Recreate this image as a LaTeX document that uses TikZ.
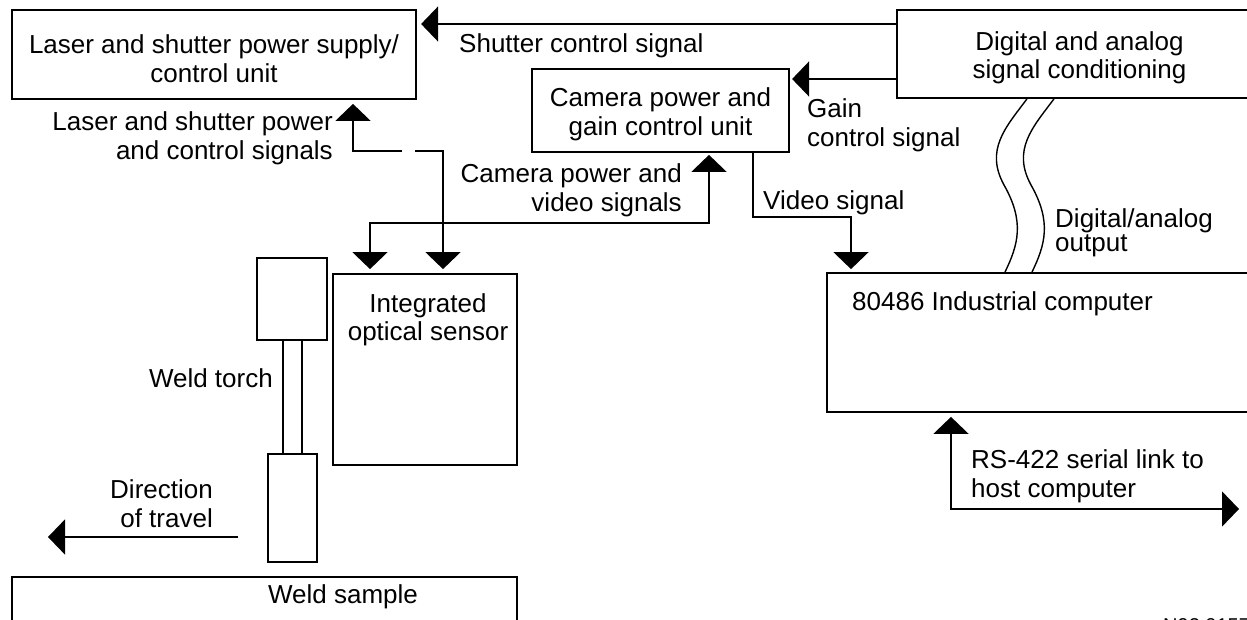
\documentclass[tikz,border=0pt]{standalone}
\usepackage{fontspec}
\setmainfont{Liberation Sans}
\usetikzlibrary{arrows.meta}
\begin{document}
\begin{tikzpicture}[x=1pt,y=-1pt,
  font=\fontsize{26}{28.5}\selectfont,
  every node/.style={inner sep=0pt},
  box/.style={draw,line width=1.8pt,inner sep=0pt,align=center},
  boxtext/.style={align=center,yshift=-4pt},
  sig/.style={line width=1.6pt},
  wire/.style={line width=1.4pt},
  bigtri/.tip={Triangle[length=17pt,width=35pt]}]
\path[use as bounding box,fill=white] (0,0) rectangle (1247,620);

% boxes
\node[box,minimum width=404pt,minimum height=89pt,
  label={[boxtext]center:Laser and shutter power supply/\\control unit}] (L) at (214,54.5) {};
\node[box,minimum width=365pt,minimum height=88pt,
  label={[boxtext]center:Digital and analog\\signal conditioning}] (D) at (1079.5,54) {};
\node[box,minimum width=257pt,minimum height=83pt,
  label={[boxtext]center:Camera power and\\gain control unit}] (C) at (660.5,110.5) {};
\node[box,minimum width=184pt,minimum height=191pt] (S) at (425,369.5) {};
\node[anchor=north,align=center] (Stext) at (428,293) {Integrated\\optical sensor};
\node[box,minimum width=440pt,minimum height=139pt] (P) at (1047,342.5) {};
\node[anchor=base west] (Ptext) at (852,310) {80486 Industrial computer};
\node[box,minimum width=70pt,minimum height=82pt] (T1) at (292,299) {};
\node[box,minimum width=49pt,minimum height=108pt] (T2) at (292.5,508) {};
\node[box,minimum width=505pt,minimum height=100pt] (W) at (264.5,627) {};
\node[anchor=base] (Wtext) at (343,603) {Weld sample};

% torch rods
\draw[wire] (T1.south -| 283,0) -- (T2.north -| 283,0);
\draw[wire] (T1.south -| 302,0) -- (T2.north -| 302,0);

% coordinates
\coordinate (lsA) at (402,151);
\coordinate (lsB) at (415,151);
\coordinate (host) at (1239,509);
\coordinate (dirA) at (238,537);
\coordinate (dirB) at (48,537);

% connectors
\draw[sig,-bigtri] ([yshift=30pt]D.west) -- ++(-475,0);
\draw[sig,-bigtri] ([yshift=-25pt]D.west) -- ++(-104,0);
\draw[sig,-bigtri,shorten >=4pt] (lsA) -| (L.south -| 353,0);
\draw[sig,-bigtri,shorten >=4pt] (lsB) -| (S.north -| 443,0);
\draw[sig,bigtri-bigtri,shorten <=2pt,shorten >=4pt] (C.south -| 709,0) |- (370,223) -- (S.north -| 370,0);
\draw[sig,-bigtri,shorten >=3pt] (C.south -| 753,0) |- (851,217) -- (P.north -| 851,0);
\draw[sig,bigtri-bigtri,shorten <=4pt] (P.south -| 951,0) |- (host);
\draw[sig,-bigtri] (dirA) -- (dirB);

% wavy digital/analog output
\draw[wire] (D.south -| 1027,0) .. controls (1005,128) and (985,150) .. (1004,185) .. controls (1025,222) and (1018,245) .. (P.north -| 1005,0);
\draw[wire] (D.south -| 1054,0) .. controls (1032,128) and (1012,150) .. (1031,185) .. controls (1052,222) and (1045,245) .. (P.north -| 1032,0);

% labels
\node[anchor=base west] (shl) at (459,53) {Shutter control signal};
\node[anchor=base west] (g1) at (807,118) {Gain};
\node[anchor=base west] (g2) at (807,147) {control signal};
\node[anchor=base east] (ls1) at (333,131) {Laser and shutter power};
\node[anchor=base east] (ls2) at (333,160) {and control signals};
\node[anchor=base east] (cp1) at (682,183) {Camera power and};
\node[anchor=base east] (cp2) at (682,212) {video signals};
\node[anchor=base west] (vs) at (763,210) {Video signal};
\node[anchor=base west] (da1) at (1055,228) {Digital/analog};
\node[anchor=base west] (da2) at (1055,252) {output};
\node[anchor=base west] (rs1) at (971,468) {RS-422 serial link to};
\node[anchor=base west] (rs2) at (971,497) {host computer};
\node[anchor=base east] (wt) at (273,387) {Weld torch};
\node[anchor=base east] (dt1) at (213,498) {Direction};
\node[anchor=base east] (dt2) at (213,527) {of travel};
\node[anchor=base west,font=\fontsize{20}{24}\selectfont] (nid) at (1163,632) {N92 0157};
\end{tikzpicture}
\end{document}
